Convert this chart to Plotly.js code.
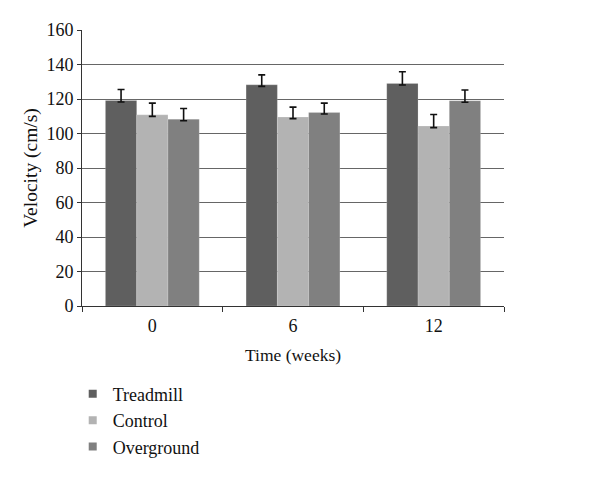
<!DOCTYPE html>
<html>
<head>
<meta charset="utf-8">
<script src="https://cdn.plot.ly/plotly-3.0.1.min.js"></script>
<style>html,body{margin:0;padding:0;background:#fff;}#chart{width:600px;height:477px;}</style>
</head>
<body>
<div id="chart"></div>
<script>
// Data
const weeks = ["0", "6", "12"];
const seriesNames = ["Treadmill", "Control", "Overground"];
const treadmill = [119.2, 128.2, 129.0];
const control = [110.8, 109.5, 104.3];
const overground = [108.3, 112.2, 119.0];
const treadmillErr = [6.3, 5.8, 6.8];
const controlErr = [6.8, 5.8, 6.7];
const overgroundErr = [6.2, 5.4, 6.2];
const errMinus = [0.9, 0.9, 0.9];
const yTicks = [0, 20, 40, 60, 80, 100, 120, 140, 160];

const colors = ["#5f5f5f", "#b3b3b3", "#808080"];
const values = [treadmill, control, overground];
const errs = [treadmillErr, controlErr, overgroundErr];

const FONT = "Liberation Serif, Times New Roman, serif";

const traces = [];
for (let i = 0; i < 3; i++) {
  traces.push({
    type: "bar",
    x: weeks,
    y: values[i],
    name: seriesNames[i],
    showlegend: false,
    marker: {color: colors[i], line: {color: "rgba(255,255,255,0.35)", width: 0.5}},
    error_y: {type: "data", array: errs[i], arrayminus: errMinus, visible: true,
              color: "#111", thickness: 1.6, width: 3.5},
    hoverinfo: "skip"
  });
}
// legend entries with small square markers
for (let i = 0; i < 3; i++) {
  traces.push({
    type: "scatter",
    mode: "markers",
    x: [weeks[0]],
    y: [null],
    name: seriesNames[i],
    legendgroup: "g" + i,
    marker: {symbol: "square", size: 8, color: colors[i]},
    showlegend: true,
    hoverinfo: "skip"
  });
}

const layout = {
  width: 600, height: 477,
  paper_bgcolor: "#fff", plot_bgcolor: "#fff",
  margin: {l: 82, r: 96, t: 30, b: 171, autoexpand: false},
  font: {family: FONT, size: 17, color: "#111"},
  barmode: "group",
  bargap: 0.333,
  bargroupgap: 0,
  showlegend: true,
  legend: {
    orientation: "v",
    x: -0.022, xanchor: "left",
    y: -0.252, yanchor: "top",
    font: {family: FONT, size: 18, color: "#111"},
    tracegroupgap: 0,
    itemwidth: 30,
    bgcolor: "rgba(0,0,0,0)"
  },
  xaxis: {
    type: "category",
    categoryorder: "array",
    categoryarray: weeks,
    tickson: "boundaries",
    ticks: "outside", ticklen: 5, tickwidth: 1, tickcolor: "#333",
    showline: true, linecolor: "#333", linewidth: 1,
    showgrid: false, zeroline: false,
    ticklabelstandoff: 3,
    tickfont: {family: FONT, size: 18, color: "#111"},
    title: {text: "Time (weeks)", font: {family: FONT, size: 17.5, color: "#111"}, standoff: 14}
  },
  yaxis: {
    range: [0, 160],
    tickvals: yTicks,
    ticktext: yTicks.map(String),
    ticks: "outside", ticklen: 4, tickwidth: 1, tickcolor: "#333",
    showline: true, linecolor: "#333", linewidth: 1,
    showgrid: true, gridcolor: "#666", gridwidth: 1,
    zeroline: false,
    tickfont: {family: FONT, size: 18, color: "#111"},
    title: {text: "Velocity (cm/s)", font: {family: FONT, size: 19.5, color: "#111"}, standoff: 3}
  }
};

Plotly.newPlot("chart", traces, layout, {displayModeBar: false, staticPlot: true});
</script>
</body>
</html>
